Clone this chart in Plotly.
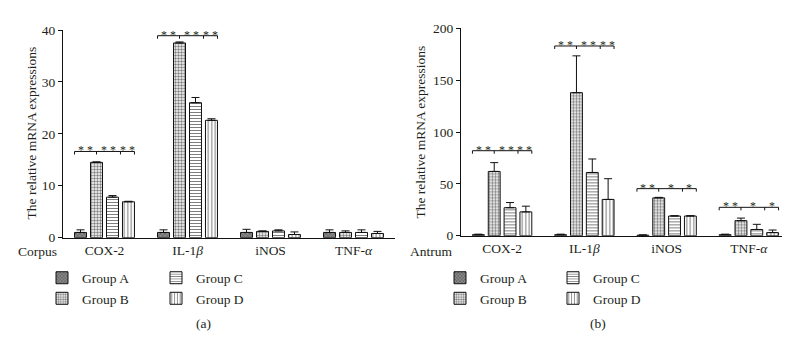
import plotly.graph_objects as go

W, H = 790, 337
FONT = "Liberation Serif"
INK = "#231f20"

categories = ["COX-2", "IL-1<i>β</i>", "iNOS", "TNF-<i>α</i>"]
groups = ["Group A", "Group B", "Group C", "Group D"]

# Corpus (a)
corpus_vals = {
    "Group A": [1.0, 1.0, 1.0, 1.0],
    "Group B": [14.5, 37.5, 1.2, 1.0],
    "Group C": [7.8, 26.0, 1.3, 1.0],
    "Group D": [6.9, 22.6, 0.6, 0.8],
}
corpus_err = {
    "Group A": [0.5, 0.5, 0.6, 0.5],
    "Group B": [0.1, 0.2, 0.1, 0.3],
    "Group C": [0.3, 1.0, 0.2, 0.5],
    "Group D": [0.1, 0.3, 0.5, 0.4],
}
# Antrum (b)
antrum_vals = {
    "Group A": [1.0, 1.0, 0.5, 1.0],
    "Group B": [62.0, 138.0, 36.5, 14.5],
    "Group C": [27.0, 61.0, 19.0, 6.0],
    "Group D": [23.0, 35.0, 19.0, 3.0],
}
antrum_err = {
    "Group A": [0.5, 0.5, 0.3, 0.5],
    "Group B": [8.5, 35.5, 0.5, 2.5],
    "Group C": [5.0, 13.0, 0.3, 5.0],
    "Group D": [5.5, 20.0, 0.3, 2.5],
}

corpus_ticks = [0, 10, 20, 30, 40]
antrum_ticks = [0, 50, 100, 150, 200]

# significance brackets: (category index, label list, bracket height)
corpus_sig = [(0, ["* *", "* *", "* *"], 16.6), (1, ["* *", "* *", "* *"], 38.9)]
antrum_sig = [(0, ["* *", "* *", "* *"], 82), (1, ["* *", "* *", "* *"], 183),
              (2, ["* *", "*", "*"], 45.4), (3, ["* *", "*", "*"], 27.4)]

patterns = {
    "Group A": dict(shape="x", fgcolor="#222", bgcolor="#8a8a8a", size=3, solidity=0.4),
    "Group B": dict(shape=".", fgcolor="#000", bgcolor="#fff", size=3, solidity=0.5),
    "Group C": dict(shape="-", fgcolor="#000", bgcolor="#fff", size=3, solidity=0.35),
    "Group D": dict(shape="|", fgcolor="#000", bgcolor="#fff", size=3.5, solidity=0.3),
}

BARGAP = 0.23
BARGROUPGAP = 0.25
slot = (1 - BARGAP) / 4
barw = slot * (1 - BARGROUPGAP)

def center(ci, gi):
    return ci - (1 - BARGAP) / 2 + slot * (gi + 0.5)

fig = go.Figure()
legends_left = ["legend", "legend", "legend2", "legend2"]
legends_right = ["legend3", "legend3", "legend4", "legend4"]

for vals, errs, xa, ya, lg in [
        (corpus_vals, corpus_err, "x", "y", legends_left),
        (antrum_vals, antrum_err, "x2", "y2", legends_right)]:
    for gi, g in enumerate(groups):
        fig.add_trace(go.Bar(
            x=categories, y=vals[g], name=g, xaxis=xa, yaxis=ya,
            legend=lg[gi],
            marker=dict(color="white", line=dict(color="#111", width=1),
                        pattern=patterns[g]),
            error_y=dict(type="data", array=errs[g], arrayminus=[0] * 4,
                         symmetric=False, color="#111", thickness=1, width=4),
            offsetgroup=str(gi),
        ))

shapes = []
annotations = []
line = dict(color="#111", width=1)
for sigs, xa, ya in [(corpus_sig, "x", "y"), (antrum_sig, "x2", "y2")]:
    for ci, labels, yv in sigs:
        xl = center(ci, 0) - barw / 2
        xb = center(ci, 1)
        xc = (center(ci, 2) + center(ci, 3)) / 2
        xr = center(ci, 3) + barw / 2
        shapes.append(dict(type="line", xref=xa, yref=ya, x0=xl, x1=xr, y0=yv, y1=yv, line=line))
        for xx in [xl, xb, xc, xr]:
            shapes.append(dict(type="line", xref=xa, yref=ya, x0=xx, x1=xx,
                               ysizemode="pixel", yanchor=yv, y0=0, y1=-3, line=line))
        segs = [(xl, xb), (xb, xc), (xc, xr)]
        for (a, b), lab in zip(segs, labels):
            annotations.append(dict(xref=xa, yref=ya, x=(a + b) / 2, y=yv, text=lab,
                                    showarrow=False, xanchor="center", yanchor="bottom",
                                    yshift=-8,
                                    font=dict(family=FONT, size=12, color=INK)))

def px(xp):
    return xp / W

def py(yp):
    return 1 - yp / H

txt = dict(family=FONT, size=13.5, color=INK)

def label(xp, yp, text, angle=0):
    return dict(xref="paper", yref="paper", x=px(xp), y=py(yp), text=text,
                textangle=angle, showarrow=False, xanchor="center", yanchor="middle",
                font=txt)

annotations += [
    label(29, 247, "Corpus"),
    label(423, 247, "Antrum"),
    label(23, 124, "The relative mRNA expressions", -90),
    label(413, 123, "The relative mRNA expressions", -90),
    label(195, 323, "(a)"),
    label(590, 323, "(b)"),
]

axis_common = dict(showline=True, linecolor="#111", linewidth=1, showgrid=False,
                   zeroline=False, tickfont=txt)
xcommon = dict(axis_common, type="category", range=[-0.5, 3.5], ticks="")
ycommon = dict(axis_common, ticks="outside", ticklen=4, tickwidth=1, tickcolor="#111")

def legend_at(xp, yp):
    return dict(x=px(xp), y=py(yp), xanchor="left", yanchor="top", orientation="v",
                font=txt, bgcolor="rgba(0,0,0,0)", tracegroupgap=0, itemwidth=30)

fig.update_layout(
    width=W, height=H, margin=dict(l=0, r=0, t=0, b=0),
    paper_bgcolor="white", plot_bgcolor="white",
    barmode="group", bargap=BARGAP, bargroupgap=BARGROUPGAP,
    font=txt,
    xaxis=dict(xcommon, domain=[px(55), px(387)], anchor="y"),
    yaxis=dict(ycommon, domain=[1 - 233 / H, 1 - 15.7 / H], range=[0, 40],
               tickvals=corpus_ticks, anchor="x"),
    xaxis2=dict(xcommon, domain=[px(453), px(782)], anchor="y2"),
    yaxis2=dict(ycommon, domain=[1 - 231 / H, 1 - 14 / H], range=[0, 200],
                tickvals=antrum_ticks, anchor="x2"),
    legend=legend_at(34, 259),
    legend2=legend_at(148, 259),
    legend3=legend_at(432, 259),
    legend4=legend_at(545, 259),
    shapes=shapes, annotations=annotations,
)

fig.write_html("out.html")
